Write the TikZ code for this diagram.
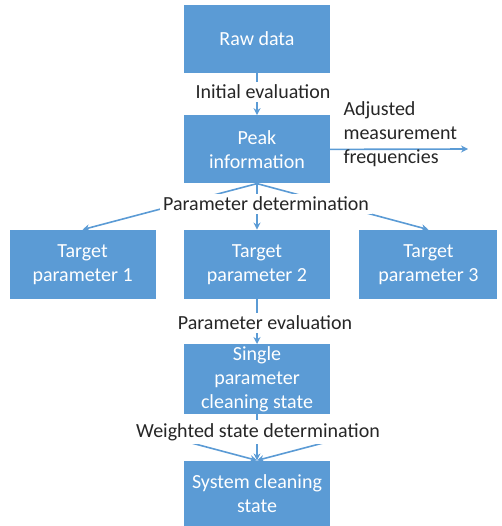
\documentclass[tikz,border=0pt]{standalone}
\usepackage{fontspec}
\setmainfont{Carlito}
\usetikzlibrary{positioning,arrows.meta}
\definecolor{boxblue}{HTML}{5B9BD5}
\definecolor{lbltext}{HTML}{262626}

\begin{document}
\begin{tikzpicture}[x=1pt, y=1pt, node distance={42pt}, font=\fontsize{20}{24}\selectfont,
		box/.style = {fill=boxblue, text=white, minimum width=146pt, minimum height=68pt, align=center, inner sep=1pt},
		lbl/.style = {fill=white, text=lbltext, inner sep=3pt},
		arr/.style = {draw=boxblue, line width=1.6pt, -{Stealth[length=7pt, width=7pt]}}]
			\useasboundingbox (0,0) rectangle (501,-526);
			\node[box] (raw) at (257,-39) {Raw data};
			\node[box] (peak) [below=42pt of raw] {Peak\\information};
			\node[box, minimum height=69pt] (tp2) [below=46pt of peak] {Target\\parameter 2};
			\node[box, minimum height=69pt] (tp1) [left=28pt of tp2] {Target\\parameter 1};
			\node[box, minimum height=69pt, minimum width=138pt] (tp3) [right=29pt of tp2] {Target\\parameter 3};
			\node[box, minimum height=70pt] (single) [below=45pt of tp2] {Single\\parameter\\cleaning state};
			\node[box, minimum height=67pt] (system) [below=46pt of single] {System cleaning\\state};
			\coordinate (adjend) at (468,-149);
			\coordinate (wleft) at (150,-432);
			\coordinate (wright) at (365,-432);
			\draw[arr] (raw) -- (peak);
			\draw[arr] (peak.east) -- (adjend);
			\draw[arr] (peak.south) -- (tp1.north);
			\draw[arr] (peak.south) -- (tp2.north);
			\draw[arr] (peak.south) -- (tp3.north);
			\draw[arr] (tp2) -- (single);
			\draw[arr] (single) -- (system);
			\draw[arr] (wleft) -- (system.north);
			\draw[arr] (wright) -- (system.north);
			\node[lbl] (ieval) at (263,-92) {Initial evaluation};
			\node[lbl] (pdet) at (266,-204) {Parameter determination};
			\node[lbl] (peval) at (265,-323) {Parameter evaluation};
			\node[lbl] (wdet) at (258,-432) {Weighted state determination};
			\node[text=lbltext, align=left, anchor=west] (adj) at (340,-134) {Adjusted\\measurement\\frequencies};
		\end{tikzpicture}
\end{document}
